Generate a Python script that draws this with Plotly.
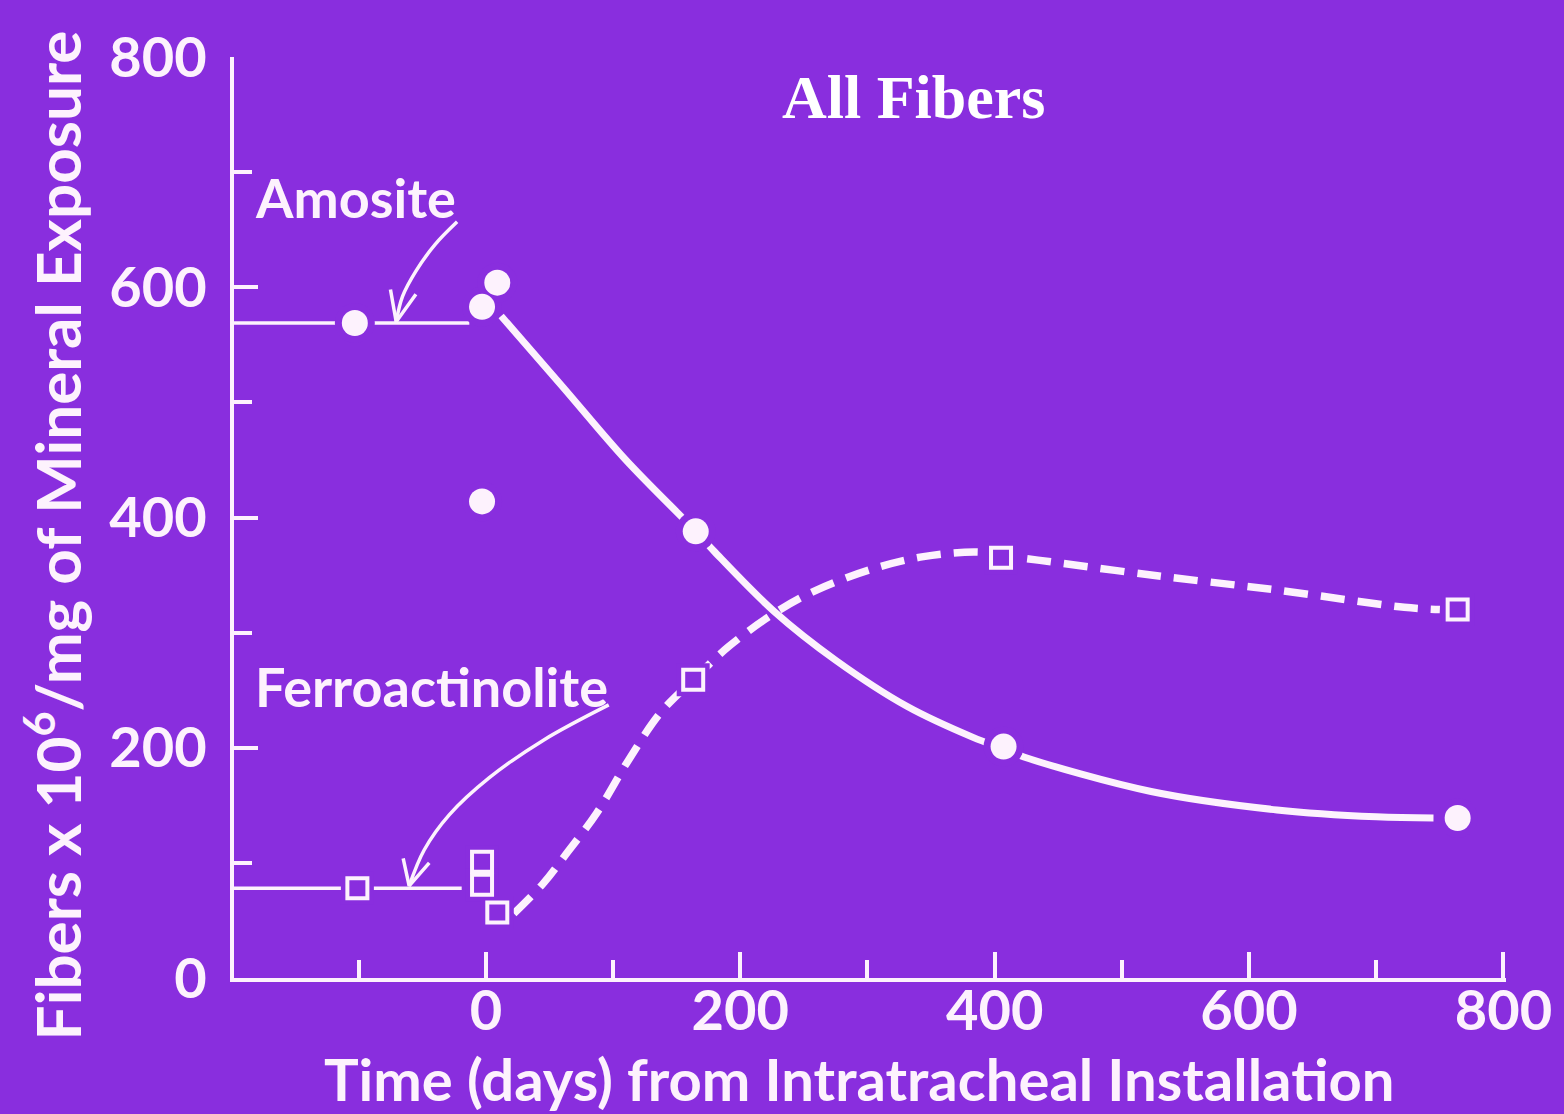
import plotly.graph_objects as go

# ---- data ---------------------------------------------------------------
# Amosite (circles): measured fibre burdens
amosite_days = [-103, -3, 9, -3, 165, 407, 764]
amosite_fibers = [569, 583, 604, 414, 388, 201, 139]

# Ferroactinolite (squares)
ferro_days = [-101, -3, -3, 9, 163, 405, 764]
ferro_fibers = [78, 101, 81, 57, 259, 365, 320]

# pre-installation mean levels
amosite_base_days = [-198, -13]
amosite_base_level = [569, 569]
ferro_base_days = [-198, -19]
ferro_base_level = [78, 78]

# fitted clearance curve for amosite (solid)
amosite_fit_days = [12, 60, 110, 165, 180, 227, 275, 331, 383, 407,
                    423, 523, 622, 700, 745]
amosite_fit_fibers = [575, 514, 450, 388, 370, 318, 276, 236, 209, 199,
                      192, 162, 146, 140, 139]

# fitted curve for ferroactinolite (dashed)
ferro_fit_days = [22, 45, 64, 87, 112, 137, 163, 191, 227, 260, 303, 344, 387,
                  405, 434, 523, 622, 722, 750]
ferro_fit_fibers = [56, 82, 109, 143, 189, 230, 259, 288, 317, 337, 355, 366, 370,
                    367, 363, 350, 337, 322, 320]

# ---- styling ----------------------------------------------------------------
BG = "rgb(137,46,222)"
INK = "#fdf2fd"
FONT = "Lato"

fig = go.Figure()

# horizontal baseline levels
fig.add_trace(go.Scatter(x=amosite_base_days, y=amosite_base_level, mode="lines",
                         line=dict(color=INK, width=3.5), hoverinfo="skip"))
fig.add_trace(go.Scatter(x=ferro_base_days, y=ferro_base_level, mode="lines",
                         line=dict(color=INK, width=3.5), hoverinfo="skip"))

# fitted curves
fig.add_trace(go.Scatter(x=amosite_fit_days, y=amosite_fit_fibers, mode="lines",
                         line=dict(color=INK, width=7, shape="spline", smoothing=1.0),
                         hoverinfo="skip"))
fig.add_trace(go.Scatter(x=ferro_fit_days, y=ferro_fit_fibers, mode="lines",
                         line=dict(color=INK, width=7.5, shape="spline", smoothing=1.0,
                                   dash="24px,13px"),
                         hoverinfo="skip"))

# label arrows (curved leaders)
amosite_leader = dict(x=[-22.6, -40.0, -55.0, -65.5, -70.5],
                      y=[656.8, 637.0, 614.0, 592.0, 570.0])
amosite_head = dict(x=[-75.0, -70.5, -55.0], y=[598.0, 570.0, 594.0])
ferro_leader = dict(x=[96.6, 45.6, 2.5, -28.8, -48.5, -60.3],
                    y=[237.2, 206.8, 173.8, 141.7, 111.2, 80.0])
ferro_head = dict(x=[-65.0, -60.3, -44.5], y=[104.0, 80.0, 100.0])

for leader in (amosite_leader, ferro_leader):
    fig.add_trace(go.Scatter(x=leader["x"], y=leader["y"], mode="lines",
                             line=dict(color=INK, width=3.5, shape="spline"),
                             hoverinfo="skip"))
for head in (amosite_head, ferro_head):
    fig.add_trace(go.Scatter(x=head["x"], y=head["y"], mode="lines",
                             line=dict(color=INK, width=3.5), hoverinfo="skip"))

# background-coloured halos so lines stop short of the markers
fig.add_trace(go.Scatter(x=amosite_days, y=amosite_fibers, mode="markers",
                         marker=dict(symbol="circle", size=40, color=BG),
                         hoverinfo="skip", cliponaxis=False))
fig.add_trace(go.Scatter(x=ferro_days, y=ferro_fibers, mode="markers",
                         marker=dict(symbol="square", size=33, color=BG),
                         hoverinfo="skip", cliponaxis=False))

# markers
fig.add_trace(go.Scatter(x=amosite_days, y=amosite_fibers, mode="markers",
                         name="Amosite",
                         marker=dict(symbol="circle", size=26, color=INK),
                         cliponaxis=False))
fig.add_trace(go.Scatter(x=ferro_days, y=ferro_fibers, mode="markers",
                         name="Ferroactinolite",
                         marker=dict(symbol="square-open", size=20, color=INK,
                                     line=dict(color=INK, width=4)),
                         cliponaxis=False))

label_font = dict(family=FONT, size=56, color=INK, weight="bold")

axis_common = dict(showline=True, linewidth=4, linecolor=INK, ticks="inside",
                   tickwidth=4, tickcolor=INK, showgrid=False, zeroline=False,
                   tickfont=label_font)

fig.update_layout(
    width=1564, height=1114, autosize=False,
    margin=dict(l=234, r=54, t=57, b=136),
    paper_bgcolor=BG, plot_bgcolor=BG,
    showlegend=False,
    xaxis=dict(range=[-198, 802], tickvals=[0, 200, 400, 600, 800], ticklen=26,
               ticklabelstandoff=-19,
               minor=dict(tickvals=[-100, 100, 300, 500, 700], ticks="inside",
                          ticklen=18, tickwidth=4, tickcolor=INK),
               **axis_common),
    yaxis=dict(range=[0, 800], tickvals=[0, 200, 400, 600, 800], ticklen=24,
               ticklabelstandoff=12,
               minor=dict(tickvals=[100, 300, 500, 700], ticks="inside",
                          ticklen=18, tickwidth=4, tickcolor=INK),
               **axis_common),
    annotations=[
        dict(text="<b>All Fibers</b>", xref="paper", yref="paper",
             x=0.5345, y=0.957, xanchor="center", yanchor="middle", showarrow=False,
             font=dict(family="Liberation Serif", size=62, color="white")),
        dict(text="Amosite", xref="x", yref="y", x=-183, y=678,
             xanchor="left", yanchor="middle", showarrow=False,
             font=dict(family=FONT, size=54, color=INK, weight="bold")),
        dict(text="Ferroactinolite", xref="x", yref="y", x=-183, y=253,
             xanchor="left", yanchor="middle", showarrow=False,
             font=dict(family=FONT, size=54, color=INK, weight="bold")),
        dict(text="Time (days) from Intratracheal Installation", xref="paper",
             yref="paper", x=0.492, y=-0.109, xanchor="center", yanchor="middle",
             showarrow=False, font=dict(family=FONT, size=58, color=INK, weight="bold")),
        dict(text="Fibers x 10<sup>6</sup>/mg of Mineral Exposure", xref="paper",
             yref="paper", x=-0.142, y=0.481, xanchor="center", yanchor="middle",
             textangle=-90, showarrow=False,
             font=dict(family=FONT, size=62, color=INK, weight="bold")),
    ],
)

fig.write_html("out.html")
